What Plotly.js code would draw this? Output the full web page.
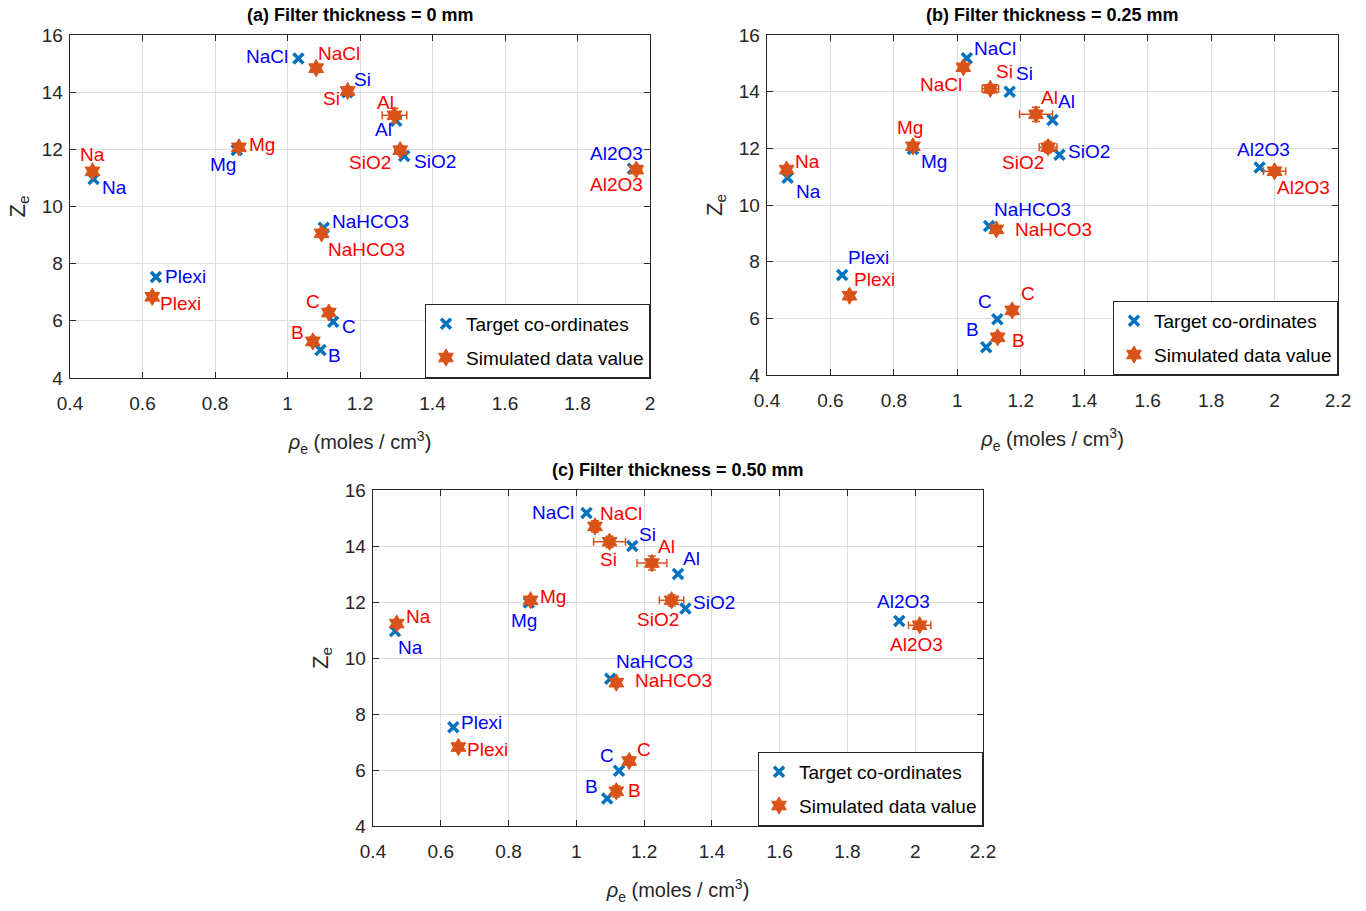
<!DOCTYPE html>
<html><head><meta charset="utf-8">
<script src="https://cdn.plot.ly/plotly-3.0.1.min.js"></script>
<style>html,body{margin:0;padding:0;background:#fff;}#chart{width:1366px;height:911px;}</style>
</head><body><div id="chart"></div>
<script>
// ---------- DATA ----------
const materials = ['Na','Plexi','Mg','NaCl','Si','Al','SiO2','NaHCO3','C','B','Al2O3'];
const targetX = [0.465, 0.637, 0.860, 1.030, 1.165, 1.300, 1.322, 1.100, 1.126, 1.091, 1.953];
const targetY = [10.96, 7.53, 11.98, 15.18, 14.00, 13.00, 11.77, 9.26, 5.97, 4.98, 11.32];

const simX_a = [0.462, 0.627, 0.866, 1.079, 1.166, 1.295, 1.311, 1.094, 1.114, 1.070, 1.962];
const simY_a = [11.23, 6.84, 12.07, 14.84, 14.04, 13.19, 11.97, 9.06, 6.29, 5.28, 11.29];
const errX_a = [0.005, 0.005, 0.010, 0.005, 0.010, 0.034, 0.015, 0.005, 0.010, 0.010, 0.015];
const errY_a = [0.10, 0.10, 0.10, 0.10, 0.10, 0.25, 0.15, 0.10, 0.15, 0.15, 0.10];

const simX_b = [0.462, 0.660, 0.860, 1.019, 1.104, 1.248, 1.286, 1.123, 1.173, 1.127, 2.000];
const simY_b = [11.25, 6.80, 12.07, 14.86, 14.10, 13.20, 12.04, 9.14, 6.28, 5.33, 11.19];
const errX_b = [0.005, 0.005, 0.010, 0.008, 0.026, 0.052, 0.028, 0.008, 0.010, 0.015, 0.035];
const errY_b = [0.10, 0.10, 0.10, 0.10, 0.15, 0.25, 0.20, 0.10, 0.15, 0.15, 0.10];

const simX_c = [0.470, 0.652, 0.865, 1.055, 1.098, 1.223, 1.281, 1.118, 1.156, 1.118, 2.013];
const simY_c = [11.23, 6.82, 12.06, 14.70, 14.15, 13.39, 12.06, 9.12, 6.32, 5.24, 11.17];
const errX_c = [0.005, 0.005, 0.010, 0.012, 0.047, 0.044, 0.036, 0.010, 0.008, 0.010, 0.033];
const errY_c = [0.10, 0.10, 0.10, 0.20, 0.20, 0.25, 0.20, 0.10, 0.15, 0.20, 0.10];

const panelTitles = ['(a) Filter thickness = 0 mm', '(b) Filter thickness = 0.25 mm', '(c) Filter thickness = 0.50 mm'];
const seriesNames = ['Target co-ordinates', 'Simulated data value'];

// ---------- STYLE / LAYOUT ----------
const FONT = '"Liberation Sans", Arial, "Helvetica Neue", sans-serif';
const W = 1366, H = 911;
const BLUE = '#0072BD', ORANGE = '#D95319', AX = '#262626';
const FS = 19;

// plot boxes in pixels: [left, right, top, bottom]
const boxes = [[70, 650, 35, 378], [767, 1338, 35, 375], [373, 983, 490, 826]];
const xRanges = [[0.4, 2.0], [0.4, 2.2], [0.4, 2.2]];

// label placement per material: [anchor, dx, dy] (pixels)
const blueLab = [
  [['left',6,-8],['left',7,1],['right',1,-15],['right',-8,2],['left',5,13],['right',-2,-9],['left',8,-6],['left',6,6],['left',7,-5],['left',6,-6],['right',12,15]],
  [['left',6,-14],['left',4,17],['left',6,-13],['left',5,10],['left',4,18],['left',3,18],['left',7,3],['left',3,16],['right',-3,18],['right',-5,18],['center',4,18]],
  [['left',1,-16],['left',6,5],['center',-5,-18],['right',-11,0],['left',5,12],['left',3,16],['left',6,6],['left',4,17],['right',-3,15],['right',-7,12],['center',4,20]]
];
const redLab = [
  [['center',0,17],['left',6,-7],['left',8,3],['left',0,15],['right',-6,-7],['right',2,13],['right',-7,-12],['left',4,-16],['right',-7,11],['right',-7,9],['right',9,-15]],
  [['left',6,8],['left',3,16],['center',-3,19],['right',1,-17],['left',4,17],['left',3,17],['right',-2,-15],['left',17,0],['left',7,17],['left',12,-3],['left',0,-16]],
  [['left',7,7],['left',7,-2],['left',7,4],['left',3,13],['center',-1,-18],['left',4,17],['right',9,-19],['left',17,2],['left',6,12],['left',10,1],['center',-3,-19]]
];

const sims = [[simX_a, simY_a, errX_a, errY_a], [simX_b, simY_b, errX_b, errY_b], [simX_c, simY_c, errX_c, errY_c]];

const data = [];
const layout = {
  width: W, height: H, margin: {l: 0, r: 0, t: 0, b: 0},
  paper_bgcolor: '#fff', plot_bgcolor: '#fff',
  font: {family: FONT, size: FS, color: AX},
  showlegend: true, annotations: []
};

for (let p = 0; p < 3; p++) {
  const sfx = p === 0 ? '' : String(p + 1);
  const xa = 'x' + sfx, ya = 'y' + sfx;
  const lg = 'legend' + sfx;
  const [L, R, T, B] = boxes[p];
  const axCommon = {
    showline: true, linecolor: AX, linewidth: 1.3, mirror: 'ticks',
    ticks: 'inside', ticklen: 6, tickcolor: AX, tickwidth: 1,
    showgrid: true, gridcolor: '#dedede', gridwidth: 1, zeroline: false,
    tickfont: {family: FONT, size: FS, color: AX}, automargin: false
  };
  layout['xaxis' + sfx] = Object.assign({}, axCommon, {
    domain: [L / W, R / W], anchor: ya, range: xRanges[p], dtick: 0.2, tick0: 0.4,
    ticklabelstandoff: 8,
    title: {text: '<i>ρ</i><sub>e</sub> (moles / cm<sup>3</sup>)', font: {family: FONT, size: 20, color: AX}, standoff: 22}
  });
  layout['yaxis' + sfx] = Object.assign({}, axCommon, {
    domain: [1 - B / H, 1 - T / H], anchor: xa, range: [4, 16], dtick: 2,
    ticklabelstandoff: 2,
    title: {text: 'Z<sub>e</sub>', font: {family: FONT, size: 22, color: AX}, standoff: 10}
  });
  layout[lg] = {
    x: R / W, xanchor: 'right', y: 1 - B / H, yanchor: 'bottom',
    bgcolor: '#fff', bordercolor: AX, borderwidth: 1,
    font: {family: FONT, size: FS, color: '#000'}, tracegroupgap: 6
  };
  const [sx, sy, ex, ey] = sims[p];
  data.push({
    type: 'scatter', mode: 'markers', x: targetX, y: targetY, xaxis: xa, yaxis: ya,
    name: seriesNames[0], legend: lg, legendgroup: 'g1' + p,
    marker: {symbol: 'x-thin', size: 10, color: BLUE, line: {color: BLUE, width: 3.5}},
    hoverinfo: 'skip'
  });
  data.push({
    type: 'scatter', mode: 'markers', x: sx, y: sy, xaxis: xa, yaxis: ya,
    name: seriesNames[1], legend: lg, legendgroup: 'g2' + p,
    marker: {symbol: 'hexagram', size: 13, color: ORANGE, line: {color: ORANGE, width: 1}},
    error_x: {type: 'data', array: ex, visible: true, color: ORANGE, thickness: 1.5, width: 4},
    error_y: {type: 'data', array: ey, visible: true, color: ORANGE, thickness: 1.5, width: 4},
    hoverinfo: 'skip'
  });
  for (let i = 0; i < materials.length; i++) {
    const b = blueLab[p][i], r = redLab[p][i];
    layout.annotations.push({
      xref: xa, yref: ya, x: targetX[i], y: targetY[i], text: materials[i], showarrow: false,
      xanchor: b[0], yanchor: 'middle', xshift: b[1], yshift: b[2],
      font: {family: FONT, size: FS, color: '#0000FF'}
    });
    layout.annotations.push({
      xref: xa, yref: ya, x: sx[i], y: sy[i], text: materials[i], showarrow: false,
      xanchor: r[0], yanchor: 'middle', xshift: r[1], yshift: r[2],
      font: {family: FONT, size: FS, color: '#FF0000'}
    });
  }
  layout.annotations.push({
    xref: 'paper', yref: 'paper', x: (L + R) / 2 / W, y: 1 - (T - 20) / H,
    text: '<b>' + panelTitles[p] + '</b>', showarrow: false, xanchor: 'center', yanchor: 'middle',
    font: {family: FONT, size: 18, color: '#000'}
  });
}

Plotly.newPlot('chart', data, layout, {staticPlot: true, displayModeBar: false});
</script></body></html>
